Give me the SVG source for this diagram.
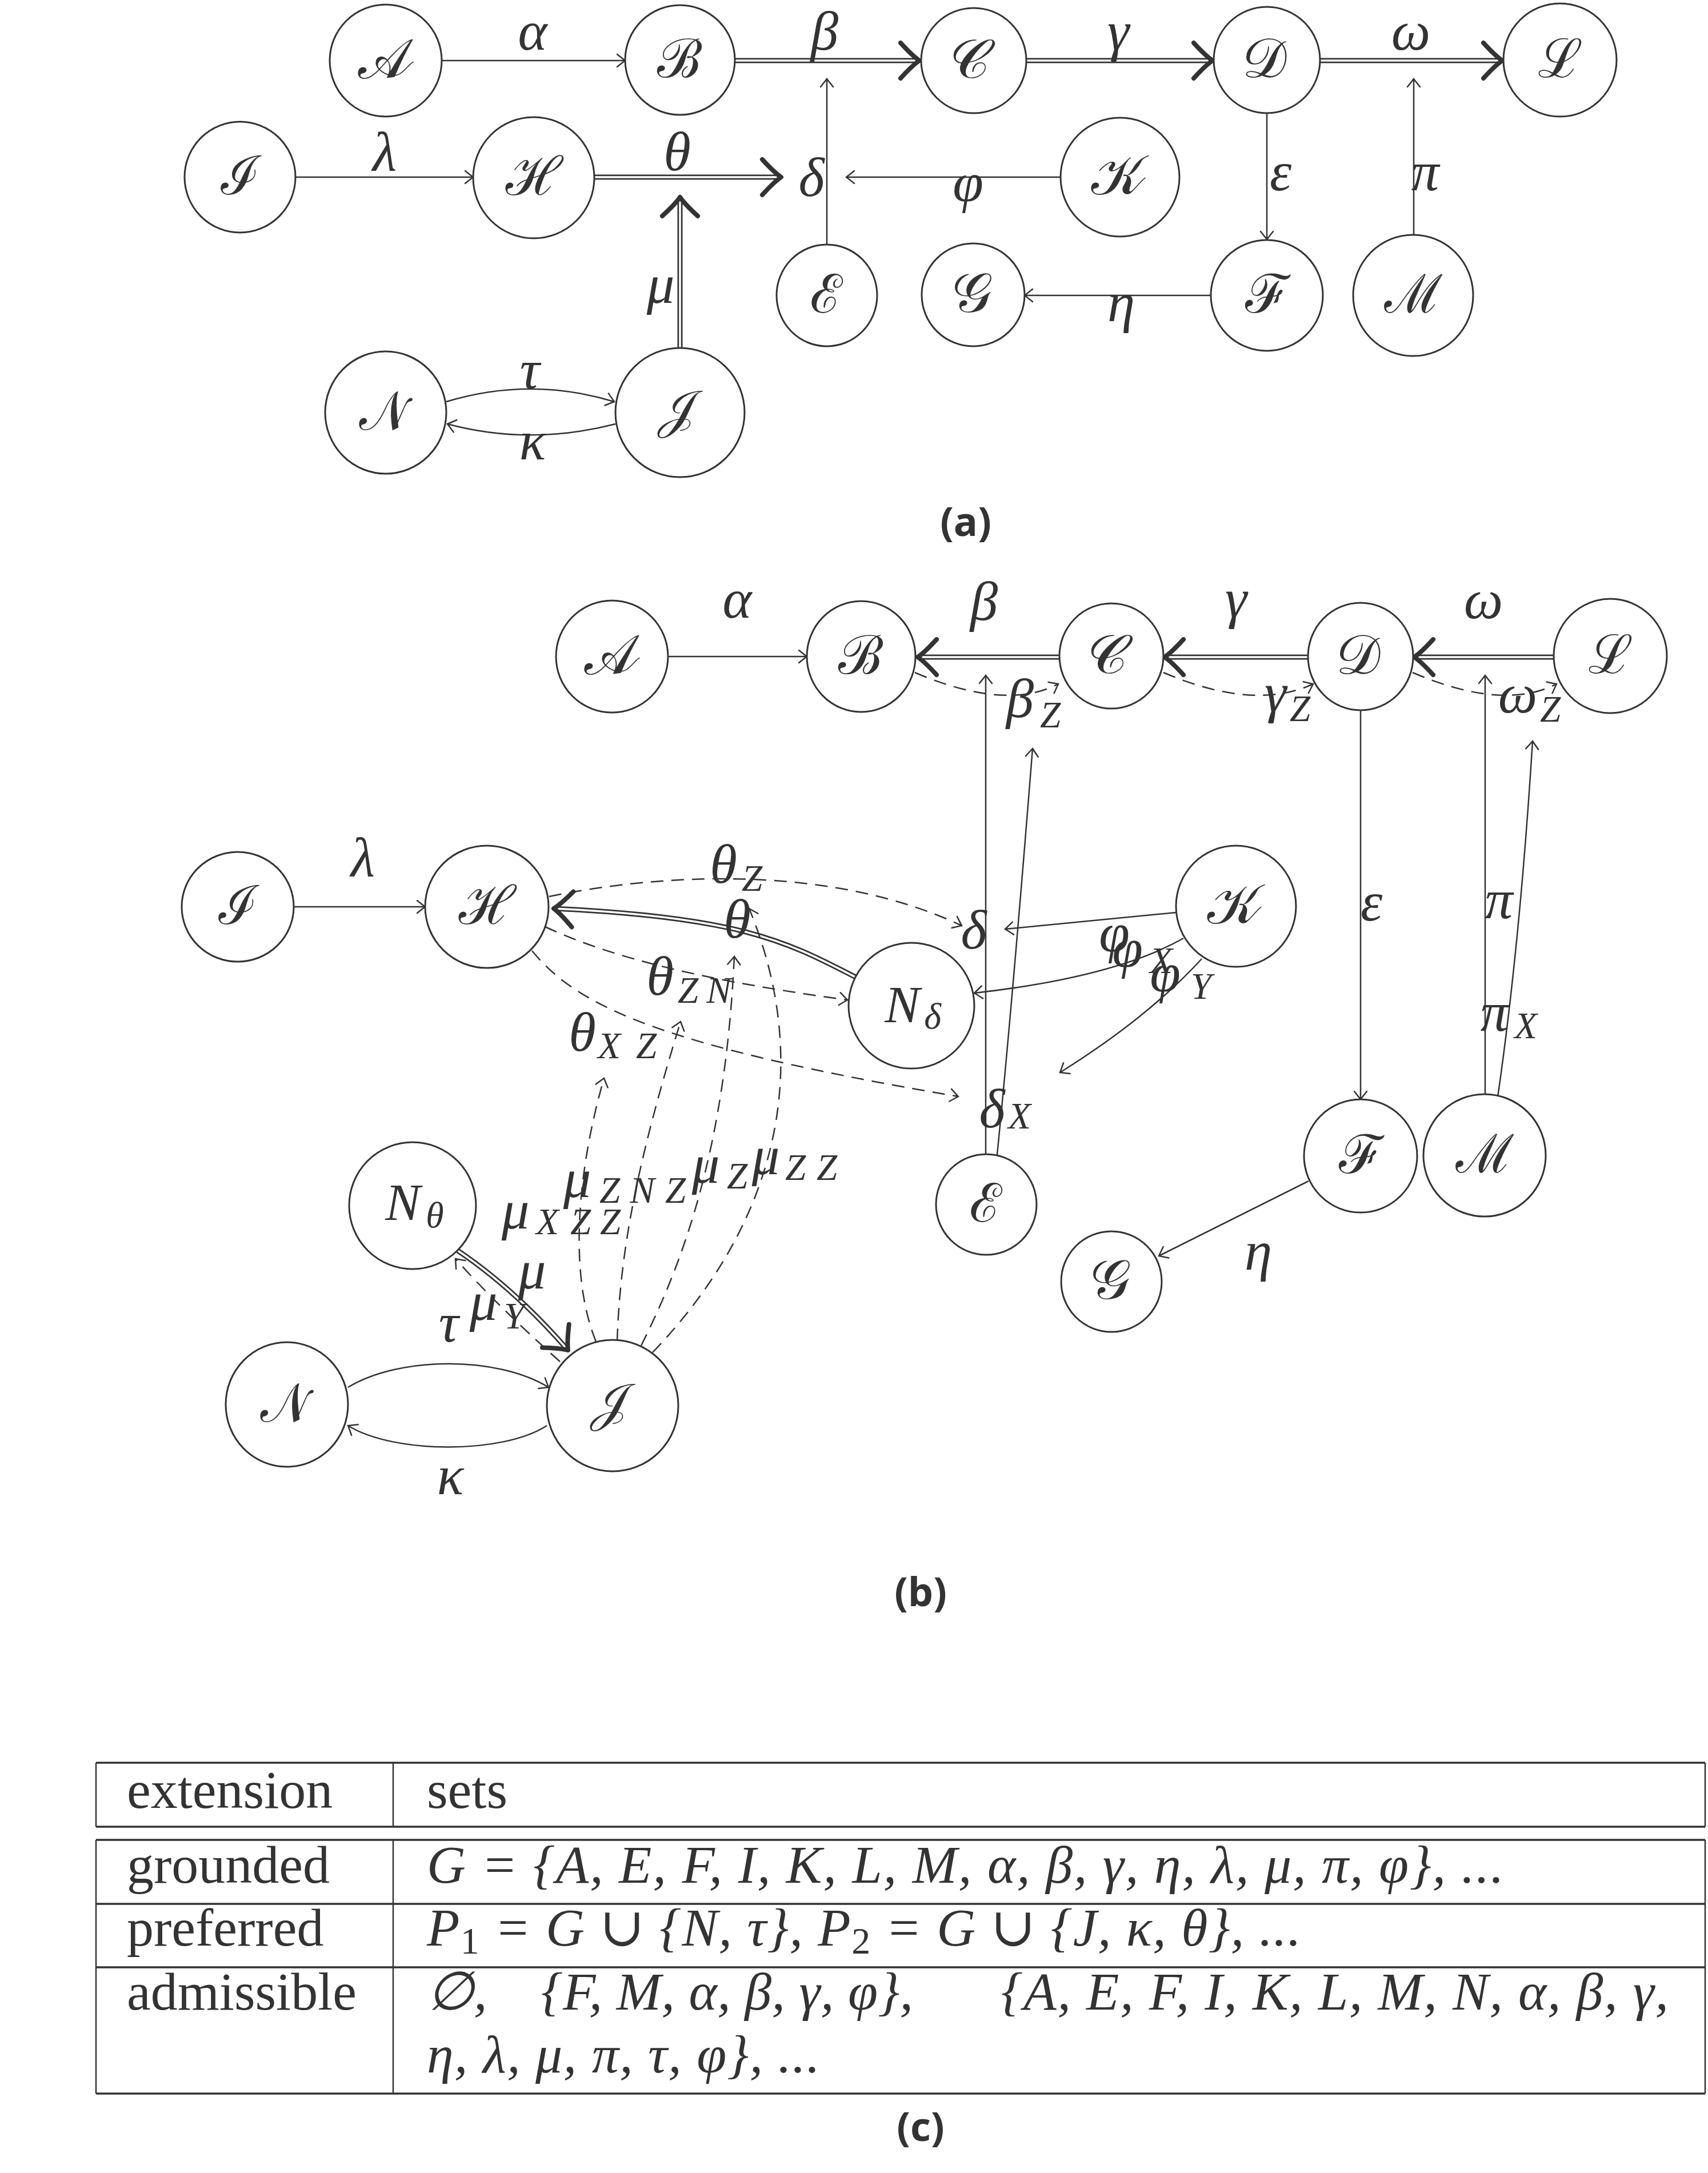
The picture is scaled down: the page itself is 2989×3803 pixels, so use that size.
<svg xmlns="http://www.w3.org/2000/svg" width="2989" height="3803" viewBox="0 0 2989 3803">
<style>
.bg{fill:#fff}
.n ellipse{fill:#fff;stroke:#333;stroke-width:3}
.nt{font-family:"Liberation Serif","Noto Sans Math","STIX Two Math","Latin Modern Math",serif;font-size:94px;fill:#333;text-anchor:middle}
.nm{font-family:"Liberation Serif","DejaVu Serif",serif;font-style:italic;font-size:92px;fill:#333;text-anchor:middle}
.e{fill:none;stroke:#333;stroke-width:2.5}
.d{fill:none;stroke:#333;stroke-width:2.5;stroke-dasharray:22 14}
.o{fill:none;stroke:#333;stroke-width:9}
.i{fill:none;stroke:#fff;stroke-width:3.5}
.lb{font-family:"Liberation Serif","DejaVu Serif",serif;font-style:italic;font-size:97px;fill:#333;text-anchor:middle}
.sb{font-size:65px}
.cap{font-family:"Open Sans","DejaVu Sans",sans-serif;font-weight:700;font-size:70px;fill:#333;text-anchor:middle}
.tl{fill:none;stroke:#333;stroke-width:3.5}
.tv{fill:none;stroke:#333;stroke-width:2.5}
.tx{font-family:"Liberation Serif","DejaVu Serif",serif;font-size:94px;fill:#333}
.tm{font-family:"Liberation Serif","DejaVu Serif",serif;font-style:italic;font-size:94px;fill:#333}
</style>
<defs>
<marker id="to" viewBox="-17 -14 20 28" markerWidth="20" markerHeight="28" refX="0" refY="0" orient="auto" markerUnits="userSpaceOnUse"><path d="M-14,-11 Q-4,-3 0,0 Q-4,3 -14,11" fill="none" stroke="#333" stroke-width="2.5" stroke-linecap="round"/></marker>
<marker id="imp" viewBox="-44 -40 50 80" markerWidth="50" markerHeight="80" refX="0" refY="0" orient="auto" markerUnits="userSpaceOnUse"><path d="M-33,-31 Q-12,-8 0,0 Q-12,8 -33,31" fill="none" stroke="#333" stroke-width="8" stroke-linecap="round" stroke-linejoin="round"/></marker>
</defs>
<rect class="bg" x="0" y="0" width="2989" height="3803"/>

<!-- ================= (a) ================= -->
<g id="a-connectors">
<path class="e" d="M773,106 L1094,106" marker-end="url(#to)"/>
<path class="o" d="M1286,106 L1609,106"/><path class="i" d="M1286,106 L1609,106" marker-end="url(#imp)"/>
<path class="o" d="M1796,106 L2122,106"/><path class="i" d="M1796,106 L2122,106" marker-end="url(#imp)"/>
<path class="o" d="M2310,106 L2629,106"/><path class="i" d="M2310,106 L2629,106" marker-end="url(#imp)"/>
<path class="e" d="M517,310 L828,310" marker-end="url(#to)"/>
<path class="o" d="M1040,310 L1367,310"/><path class="i" d="M1040,310 L1367,310" marker-end="url(#imp)"/>
<path class="e" d="M1447,429 L1447,138" marker-end="url(#to)"/>
<path class="e" d="M1856,310 L1481,310" marker-end="url(#to)"/>
<path class="o" d="M1190,609 L1190,345"/><path class="i" d="M1190,609 L1190,345" marker-end="url(#imp)"/>
<path class="e" d="M2217,198 L2217,419" marker-end="url(#to)"/>
<path class="e" d="M2474,410 L2474,138" marker-end="url(#to)"/>
<path class="e" d="M2119,517 L1793,517" marker-end="url(#to)"/>
<path class="e" d="M781,703 C880,673 976,673 1075,703" marker-end="url(#to)"/>
<path class="e" d="M1077,742 C976,768 880,768 783,742" marker-end="url(#to)"/>
</g>
<g id="a-labels">
<text class="lb" x="932" y="87">α</text>
<text class="lb" x="1443" y="87">β</text>
<text class="lb" x="1957" y="87">γ</text>
<text class="lb" x="2469" y="87">ω</text>
<text class="lb" x="673" y="298">λ</text>
<text class="lb" x="1185" y="298">θ</text>
<text class="lb" x="1420" y="343">δ</text>
<text class="lb" x="1694" y="352">φ</text>
<text class="lb" x="1156" y="530">μ</text>
<text class="lb" x="2241" y="333">ε</text>
<text class="lb" x="2494" y="333">π</text>
<text class="lb" x="1962" y="562">η</text>
<text class="lb" x="927" y="680">τ</text>
<text class="lb" x="932" y="804">κ</text>
</g>
<g id="a-A" class="n"><ellipse cx="675" cy="106" rx="98" ry="98"/><text class="nt" x="675" y="136">𝒜</text></g>
<g id="a-B" class="n"><ellipse cx="1190" cy="105" rx="96" ry="96"/><text class="nt" x="1190" y="135">ℬ</text></g>
<g id="a-C" class="n"><ellipse cx="1704" cy="106" rx="92" ry="92"/><text class="nt" x="1704" y="136">𝒞</text></g>
<g id="a-D" class="n"><ellipse cx="2217" cy="105" rx="93" ry="93"/><text class="nt" x="2217" y="135">𝒟</text></g>
<g id="a-L" class="n"><ellipse cx="2730" cy="105" rx="99" ry="99"/><text class="nt" x="2730" y="135">ℒ</text></g>
<g id="a-I" class="n"><ellipse cx="420" cy="310" rx="97" ry="97"/><text class="nt" x="420" y="340">ℐ</text></g>
<g id="a-H" class="n"><ellipse cx="934" cy="311" rx="106" ry="106"/><text class="nt" x="934" y="341">ℋ</text></g>
<g id="a-K" class="n"><ellipse cx="1960" cy="310" rx="104" ry="104"/><text class="nt" x="1960" y="340">𝒦</text></g>
<g id="a-E" class="n"><ellipse cx="1447" cy="517" rx="88" ry="89"/><text class="nt" x="1447" y="547">ℰ</text></g>
<g id="a-G" class="n"><ellipse cx="1703" cy="516" rx="90" ry="90"/><text class="nt" x="1703" y="546">𝒢</text></g>
<g id="a-F" class="n"><ellipse cx="2217" cy="517" rx="98" ry="97"/><text class="nt" x="2217" y="547">ℱ</text></g>
<g id="a-M" class="n"><ellipse cx="2473" cy="517" rx="105" ry="106"/><text class="nt" x="2473" y="547">ℳ</text></g>
<g id="a-N" class="n"><ellipse cx="675" cy="722" rx="106" ry="107"/><text class="nt" x="675" y="752">𝒩</text></g>
<g id="a-J" class="n"><ellipse cx="1190" cy="722" rx="113" ry="113"/><text class="nt" x="1190" y="752">𝒥</text></g>
<text class="cap" x="1690" y="938">(a)</text>

<!-- ================= (b) ================= -->
<g id="b-connectors">
<path class="e" d="M1169,1149 L1412,1149" marker-end="url(#to)"/>
<path class="o" d="M1854,1150 L1606,1150"/><path class="i" d="M1854,1150 L1606,1150" marker-end="url(#imp)"/>
<path class="o" d="M2289,1150 L2038,1150"/><path class="i" d="M2289,1150 L2038,1150" marker-end="url(#imp)"/>
<path class="o" d="M2719,1150 L2475,1150"/><path class="i" d="M2719,1150 L2475,1150" marker-end="url(#imp)"/>
<path class="d" d="M1601,1177 Q1760,1245 1852,1197" marker-end="url(#to)"/>
<path class="d" d="M2036,1177 Q2195,1245 2298,1197" marker-end="url(#to)"/>
<path class="d" d="M2472,1177 Q2630,1245 2724,1197" marker-end="url(#to)"/>
<path class="e" d="M1725,2020 L1725,1182" marker-end="url(#to)"/>
<path class="e" d="M1745,2021 Q1772,1750 1807,1310" marker-end="url(#to)"/>
<path class="e" d="M514,1587 L744,1587" marker-end="url(#to)"/>
<path class="o" d="M1497,1710 C1380,1650 1300,1605 969,1590"/><path class="i" d="M1497,1710 C1380,1650 1300,1605 969,1590" marker-end="url(#imp)"/>
<path class="d" d="M961,1569 C1150,1530 1450,1510 1683,1620" marker-end="url(#to)"/>
<path class="d" d="M954,1622 C1100,1690 1300,1725 1483,1750" marker-end="url(#to)"/>
<path class="d" d="M931,1664 C1010,1760 1150,1830 1677,1919" marker-end="url(#to)"/>
<path class="e" d="M2058,1597 L1759,1626" marker-end="url(#to)"/>
<path class="e" d="M2071,1642 Q1952,1710 1705,1738" marker-end="url(#to)"/>
<path class="e" d="M2103,1678 Q2010,1780 1855,1877" marker-end="url(#to)"/>
<path class="e" d="M2381,1243 L2381,1924" marker-end="url(#to)"/>
<path class="e" d="M2599,1915 L2599,1182" marker-end="url(#to)"/>
<path class="e" d="M2621,1920 Q2660,1650 2682,1297" marker-end="url(#to)"/>
<path class="e" d="M2290,2067 L2028,2198" marker-end="url(#to)"/>
<path class="o" d="M800,2188 Q900,2255 994,2363"/><path class="i" d="M800,2188 Q900,2255 994,2363" marker-end="url(#imp)"/>
<path class="d" d="M980,2383 Q870,2285 797,2203" marker-end="url(#to)"/>
<path class="d" d="M1043,2348 C995,2230 1010,2050 1057,1887" marker-end="url(#to)"/>
<path class="d" d="M1080,2347 C1085,2200 1110,2050 1191,1788" marker-end="url(#to)"/>
<path class="d" d="M1122,2355 C1200,2200 1270,2000 1285,1674" marker-end="url(#to)"/>
<path class="d" d="M1142,2367 C1350,2150 1430,1880 1311,1590" marker-end="url(#to)"/>
<path class="e" d="M609,2428 C700,2373 870,2373 960,2428" marker-end="url(#to)"/>
<path class="e" d="M957,2495 C880,2545 690,2545 609,2495" marker-end="url(#to)"/>
</g>
<g id="b-labels">
<text class="lb" x="1290" y="1081">α</text>
<text class="lb" x="1722" y="1085">β</text>
<text class="lb" x="2163" y="1080">γ</text>
<text class="lb" x="2596" y="1082">ω</text>
<text class="lb"><tspan x="1785" y="1255">β</tspan><tspan class="sb" x="1838" y="1273">Z</tspan></text>
<text class="lb"><tspan x="2232" y="1245">γ</tspan><tspan class="sb" x="2275" y="1262">Z</tspan></text>
<text class="lb"><tspan x="2656" y="1247">ω</tspan><tspan class="sb" x="2713" y="1263">Z</tspan></text>
<text class="lb" x="635" y="1533">λ</text>
<text class="lb"><tspan x="1266" y="1545">θ</tspan><tspan class="sb" x="1316" y="1559">Z</tspan></text>
<text class="lb" x="1290" y="1641">θ</text>
<text class="lb"><tspan x="1155" y="1741">θ</tspan><tspan class="sb" x="1204" y="1755">Z</tspan><tspan class="sb" x="1258" y="1755">N</tspan></text>
<text class="lb"><tspan x="1019" y="1839">θ</tspan><tspan class="sb" x="1066" y="1852">X</tspan><tspan class="sb" x="1131" y="1852">Z</tspan></text>
<text class="lb" x="1704" y="1660">δ</text>
<text class="lb"><tspan x="1736" y="1973">δ</tspan><tspan class="sb" x="1784" y="1975">X</tspan></text>
<text class="lb" x="1950" y="1665">φ</text>
<text class="lb"><tspan x="1973" y="1692">φ</tspan><tspan class="sb" x="2032" y="1703">X</tspan></text>
<text class="lb"><tspan x="2039" y="1735">φ</tspan><tspan class="sb" x="2102" y="1748">Y</tspan></text>
<text class="lb" x="2400" y="1611">ε</text>
<text class="lb" x="2623" y="1607">π</text>
<text class="lb"><tspan x="2615" y="1804">π</tspan><tspan class="sb" x="2670" y="1817">X</tspan></text>
<text class="lb" x="2202" y="2222">η</text>
<text class="lb"><tspan x="902" y="2150">μ</tspan><tspan class="sb" x="958" y="2160">X</tspan><tspan class="sb" x="1016" y="2160">Z</tspan><tspan class="sb" x="1068" y="2160">Z</tspan></text>
<text class="lb"><tspan x="1010" y="2095">μ</tspan><tspan class="sb" x="1067" y="2105">Z</tspan><tspan class="sb" x="1124" y="2105">N</tspan><tspan class="sb" x="1182" y="2105">Z</tspan></text>
<text class="lb"><tspan x="1235" y="2070">μ</tspan><tspan class="sb" x="1290" y="2080">Z</tspan></text>
<text class="lb"><tspan x="1340" y="2055">μ</tspan><tspan class="sb" x="1392" y="2065">Z</tspan><tspan class="sb" x="1447" y="2065">Z</tspan></text>
<text class="lb" x="931" y="2255">μ</text>
<text class="lb"><tspan x="846" y="2310">μ</tspan><tspan class="sb" x="900" y="2325">Y</tspan></text>
<text class="lb" x="785" y="2348">τ</text>
<text class="lb" x="788" y="2615">κ</text>
</g>
<g id="b-A" class="n"><ellipse cx="1071" cy="1149" rx="98" ry="98"/><text class="nt" x="1071" y="1179">𝒜</text></g>
<g id="b-B" class="n"><ellipse cx="1507" cy="1149" rx="95" ry="97"/><text class="nt" x="1507" y="1179">ℬ</text></g>
<g id="b-C" class="n"><ellipse cx="1945" cy="1148" rx="91" ry="92"/><text class="nt" x="1945" y="1178">𝒞</text></g>
<g id="b-D" class="n"><ellipse cx="2381" cy="1149" rx="92" ry="94"/><text class="nt" x="2381" y="1179">𝒟</text></g>
<g id="b-L" class="n"><ellipse cx="2818" cy="1148" rx="99" ry="100"/><text class="nt" x="2818" y="1178">ℒ</text></g>
<g id="b-I" class="n"><ellipse cx="416" cy="1587" rx="98" ry="96"/><text class="nt" x="416" y="1617">ℐ</text></g>
<g id="b-H" class="n"><ellipse cx="852" cy="1587" rx="108" ry="107"/><text class="nt" x="852" y="1617">ℋ</text></g>
<g id="b-K" class="n"><ellipse cx="2163" cy="1586" rx="105" ry="106"/><text class="nt" x="2163" y="1616">𝒦</text></g>
<g id="b-Nd" class="n"><ellipse cx="1595" cy="1760" rx="110" ry="110"/><text class="nm"><tspan x="1579" y="1789">N</tspan><tspan font-size="64" x="1632" y="1800">δ</tspan></text></g>
<g id="b-E" class="n"><ellipse cx="1726" cy="2108" rx="88" ry="88"/><text class="nt" x="1726" y="2138">ℰ</text></g>
<g id="b-F" class="n"><ellipse cx="2381" cy="2023" rx="99" ry="99"/><text class="nt" x="2381" y="2053">ℱ</text></g>
<g id="b-M" class="n"><ellipse cx="2598" cy="2022" rx="107" ry="107"/><text class="nt" x="2598" y="2052">ℳ</text></g>
<g id="b-G" class="n"><ellipse cx="1945" cy="2243" rx="88" ry="88"/><text class="nt" x="1945" y="2273">𝒢</text></g>
<g id="b-Nt" class="n"><ellipse cx="722" cy="2110" rx="111" ry="111"/><text class="nm"><tspan x="705" y="2135">N</tspan><tspan font-size="64" x="761" y="2148">θ</tspan></text></g>
<g id="b-N" class="n"><ellipse cx="502" cy="2458" rx="107" ry="109"/><text class="nt" x="502" y="2488">𝒩</text></g>
<g id="b-J" class="n"><ellipse cx="1072" cy="2460" rx="115" ry="115"/><text class="nt" x="1072" y="2490">𝒥</text></g>
<text class="cap" x="1611" y="2811">(b)</text>

<!-- ================= (c) table ================= -->
<g id="c-table">
<path class="tl" d="M168,3085 H2984 M168,3197 H2984 M168,3220 H2984 M168,3332 H2984 M168,3443 H2984 M168,3664 H2984"/>
<path class="tv" d="M168,3085 V3197 M688,3085 V3197 M2984,3085 V3197 M168,3220 V3664 M688,3220 V3664 M2984,3220 V3664"/>
<text class="tx" x="222" y="3164">extension</text>
<text class="tx" x="747" y="3164">sets</text>
<text class="tx" x="222" y="3295">grounded</text>
<text class="tx" x="222" y="3405">preferred</text>
<text class="tx" x="222" y="3517">admissible</text>
<text class="tm" x="747" y="3295" textLength="1885">G = {A, E, F, I, K, L, M, α, β, γ, η, λ, μ, π, φ}, ...</text>
<text class="tm" x="747" y="3405" textLength="1530"><tspan>P</tspan><tspan font-size="66" dy="14" font-style="normal">1</tspan><tspan dy="-14"> = G ∪ {N, τ}, P</tspan><tspan font-size="66" dy="14" font-style="normal">2</tspan><tspan dy="-14"> = G ∪ {J, κ, θ}, ...</tspan></text>
<text class="tm" x="747" y="3517">∅,</text>
<text class="tm" x="947" y="3517" textLength="651">{F, M, α, β, γ, φ},</text>
<text class="tm" x="1752" y="3517" textLength="1168">{A, E, F, I, K, L, M, N, α, β, γ,</text>
<text class="tm" x="747" y="3627" textLength="688">η, λ, μ, π, τ, φ}, ...</text>
</g>
<text class="cap" x="1611" y="3747">(c)</text>
</svg>
